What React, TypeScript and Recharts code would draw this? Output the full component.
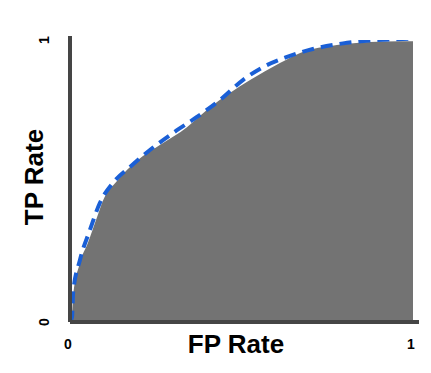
import React from 'react';
import { ComposedChart, Area, Line, XAxis, YAxis, Label } from 'recharts';

// ROC curve (gray area)
const rocFpr = [0, 0.006, 0.009, 0.029, 0.052, 0.079, 0.096, 0.137, 0.195, 0.262, 0.341, 0.399, 0.466, 0.525, 0.612, 0.671, 0.778, 0.875, 0.962, 1];
const rocTpr = [0, 0.03, 0.089, 0.209, 0.28, 0.372, 0.43, 0.5, 0.572, 0.628, 0.691, 0.752, 0.812, 0.858, 0.918, 0.954, 0.982, 0.993, 0.996, 0.996];

// Fitted curve (blue dashed)
const fitFpr = [0, 0.006, 0.009, 0.029, 0.058, 0.087, 0.125, 0.175, 0.233, 0.3, 0.37, 0.437, 0.504, 0.563, 0.633, 0.708, 0.796, 0.875, 0.953, 1.016];
const fitTpr = [0, 0.018, 0.103, 0.22, 0.326, 0.422, 0.493, 0.55, 0.61, 0.67, 0.727, 0.787, 0.858, 0.904, 0.94, 0.968, 0.988, 0.998, 1.003, 1.006];

const xTicks = [0, 1];
const yTicks = [0, 1];

const rocData = rocFpr.map((x, i) => ({ fpr: x, tpr: rocTpr[i] }));
const fitData = fitFpr.map((x, i) => ({ fpr: x, fit: fitTpr[i] }));

const FONT = '"Liberation Sans", Arial, sans-serif';

const XTick = (props: any) => {
  const { x, payload } = props;
  return (
    <text x={x - 2} y={349} textAnchor="middle" fontSize={14} fontWeight="bold" fontFamily={FONT} fill="#000">
      {payload.value}
    </text>
  );
};

const YTick = (props: any) => {
  const { y, payload } = props;
  return (
    <text transform={`translate(49, ${y}) rotate(-90)`} textAnchor="middle" fontSize={14} fontWeight="bold" fontFamily={FONT} fill="#000">
      {payload.value}
    </text>
  );
};

export default function App() {
  return (
    <div style={{ position: 'absolute', left: 0, top: 0, width: 431, height: 373, background: '#fff' }}>
      <ComposedChart width={431} height={373} margin={{ top: 36, right: 12, left: 40, bottom: 21 }}>
        <XAxis
          type="number"
          dataKey="fpr"
          domain={[0, 1]}
          ticks={xTicks}
          allowDataOverflow
          padding={{ left: 0, right: 6 }}
          height={30}
          tickLine={false}
          axisLine={{ stroke: '#454545', strokeWidth: 4 }}
          tick={<XTick />}
        >
          <Label
            content={() => (
              <text x={236} y={353} textAnchor="middle" fontSize={26} fontWeight="bold" fontFamily={FONT} fill="#000">
                FP Rate
              </text>
            )}
          />
        </XAxis>
        <YAxis
          type="number"
          domain={[0, 1]}
          ticks={yTicks}
          allowDataOverflow
          padding={{ top: 4, bottom: 0 }}
          width={30}
          tickLine={false}
          axisLine={{ stroke: '#454545', strokeWidth: 4 }}
          tick={<YTick />}
        >
          <Label
            content={() => (
              <text transform="translate(43, 177) rotate(-90)" textAnchor="middle" fontSize={26} fontWeight="bold" fontFamily={FONT} fill="#000">
                TP Rate
              </text>
            )}
          />
        </YAxis>
        <Area
          data={rocData}
          dataKey="tpr"
          type="monotone"
          fill="#737373"
          fillOpacity={1}
          stroke="none"
          isAnimationActive={false}
        />
        <Line
          data={fitData}
          dataKey="fit"
          type="monotone"
          stroke="#1a5fd6"
          strokeWidth={4}
          strokeDasharray="12 7"
          dot={false}
          activeDot={false}
          isAnimationActive={false}
        />
      </ComposedChart>
    </div>
  );
}
